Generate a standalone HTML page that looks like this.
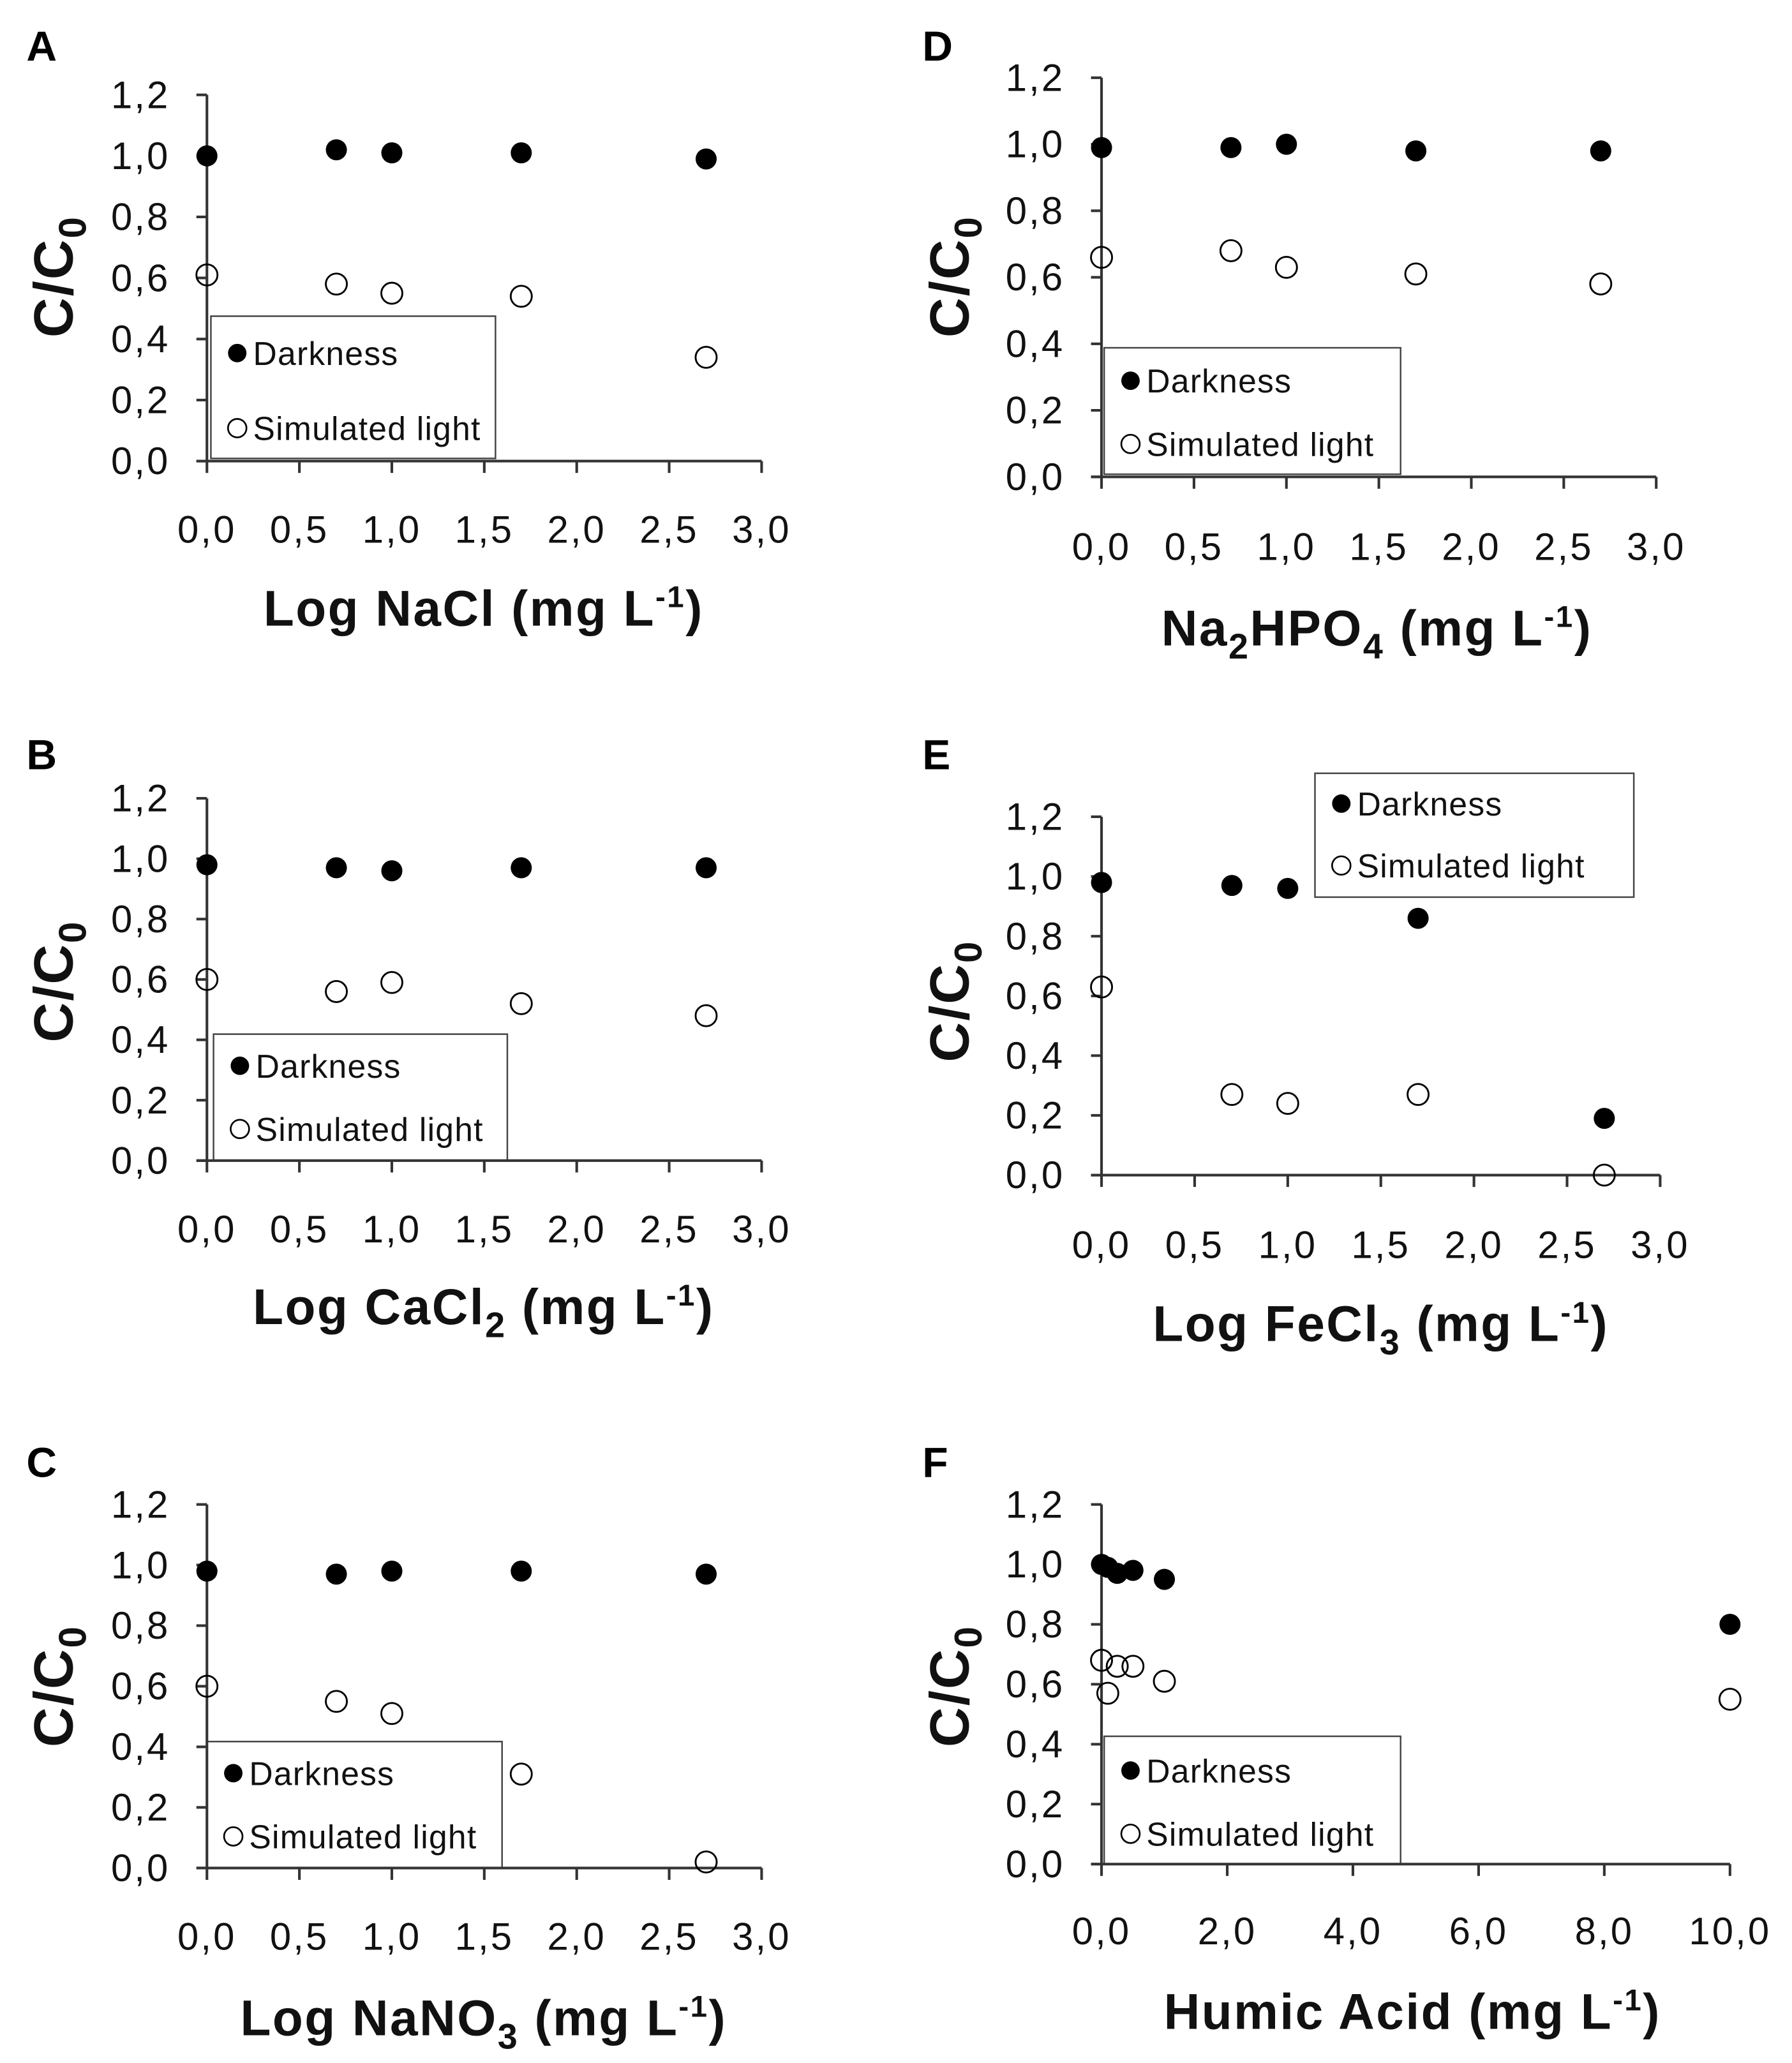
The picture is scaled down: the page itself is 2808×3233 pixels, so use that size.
<!DOCTYPE html>
<html><head><meta charset="utf-8"><style>
html,body{margin:0;padding:0;background:#fff}
svg{display:block}
text{font-family:"Liberation Sans",sans-serif}
</style></head><body>
<svg id="fig" width="2808" height="3233" viewBox="0 0 1360 1566" xmlns="http://www.w3.org/2000/svg"></svg>
<script>
const xA=[0,0.7,1,1.7,2.7];
const darkA=[1.0,1.02,1.01,1.01,0.99];
const lightA=[0.61,0.58,0.55,0.54,0.34];
const darkB=[0.98,0.97,0.96,0.97,0.97];
const lightB=[0.60,0.56,0.59,0.52,0.48];
const darkC=[0.98,0.97,0.98,0.98,0.97];
const lightC=[0.60,0.55,0.51,0.31,0.02];
const darkD=[0.99,0.99,1.0,0.98,0.98];
const lightD=[0.66,0.68,0.63,0.61,0.58];
const darkE=[0.98,0.97,0.96,0.86,0.19];
const lightE=[0.63,0.27,0.24,0.27,0.0];
const xF=[0,0.1,0.25,0.5,1,10];
const darkF=[1.0,0.99,0.97,0.98,0.95,0.80];
const lightF=[0.68,0.57,0.66,0.66,0.61,0.55];
const yTicks=["0,0","0,2","0,4","0,6","0,8","1,0","1,2"];
const xTicksLog=["0,0","0,5","1,0","1,5","2,0","2,5","3,0"];
const xTicksF=["0,0","2,0","4,0","6,0","8,0","10,0"];

const NS="http://www.w3.org/2000/svg";
const svg=document.getElementById('fig');
function mk(tag,attrs,parent,txt){const e=document.createElementNS(NS,tag);for(const k in attrs)e.setAttribute(k,attrs[k]);if(txt!==undefined)e.innerHTML=txt;(parent||svg).appendChild(e);return e;}

const panels=[
 {id:'a',letter:'A',lx:20,ly:46,x0:157,x1:578,y0:350,y1:72,xmax:3,xs:xA,dark:darkA,light:lightA,ticks:xTicksLog,tickY:412,title:'Log NaCl (mg L<tspan dy="-14" font-size="23">-1</tspan><tspan dy="14">)</tspan>',tx:367,ty:475,yt:[55,210],leg:[160,240,216,108,268,325]},
 {id:'b',letter:'B',lx:20,ly:584,x0:157,x1:578,y0:881,y1:606,xmax:3,xs:xA,dark:darkB,light:lightB,ticks:xTicksLog,tickY:943,title:'Log CaCl<tspan dy="10" font-size="27">2</tspan><tspan dy="-10"> (mg L</tspan><tspan dy="-14" font-size="23">-1</tspan><tspan dy="14">)</tspan>',tx:367,ty:1005,yt:[55,745],leg:[162,785,223,96,809,857]},
 {id:'c',letter:'C',lx:20,ly:1121,x0:157,x1:578,y0:1418,y1:1142,xmax:3,xs:xA,dark:darkC,light:lightC,ticks:xTicksLog,tickY:1480,title:'Log NaNO<tspan dy="10" font-size="27">3</tspan><tspan dy="-10"> (mg L</tspan><tspan dy="-14" font-size="23">-1</tspan><tspan dy="14">)</tspan>',tx:367,ty:1545,yt:[55,1280],leg:[157,1322,224,96,1346,1394]},
 {id:'d',letter:'D',lx:700,ly:46,x0:836,x1:1257,y0:362,y1:59,xmax:3,xs:xA,dark:darkD,light:lightD,ticks:xTicksLog,tickY:425,title:'Na<tspan dy="10" font-size="27">2</tspan><tspan dy="-10">HPO</tspan><tspan dy="10" font-size="27">4</tspan><tspan dy="-10"> (mg L</tspan><tspan dy="-14" font-size="23">-1</tspan><tspan dy="14">)</tspan>',tx:1045,ty:490,yt:[735,210],leg:[838,264,225,96,289,337]},
 {id:'e',letter:'E',lx:700,ly:584,x0:836,x1:1260,y0:892,y1:620,xmax:3,xs:xA,dark:darkE,light:lightE,ticks:xTicksLog,tickY:955,title:'Log FeCl<tspan dy="10" font-size="27">3</tspan><tspan dy="-10"> (mg L</tspan><tspan dy="-14" font-size="23">-1</tspan><tspan dy="14">)</tspan>',tx:1048,ty:1018,yt:[735,760],leg:[998,587,242,94,610,657]},
 {id:'f',letter:'F',lx:700,ly:1121,x0:836,x1:1313,y0:1415,y1:1142,xmax:10,xs:xF,dark:darkF,light:lightF,ticks:xTicksF,tickY:1476,title:'Humic Acid (mg L<tspan dy="-14" font-size="23">-1</tspan><tspan dy="14">)</tspan>',tx:1072,ty:1540,yt:[735,1280],leg:[838,1318,225,97,1344,1392]}
];

panels.forEach(p=>{
 const g=mk('g',{});
 
 
 const X=v=>p.x0+(p.x1-p.x0)*v/p.xmax;
 const Y=v=>p.y0+(p.y1-p.y0)*v/1.2;
 const L=mk('text',{x:p.lx,y:p.ly,'font-size':32,'font-weight':'bold'},g,p.letter);
 
 
 const lg=mk('g',{},g);
 
 
 const [bx,by,bw,bh,e1,e2]=p.leg;
 mk('rect',{x:bx,y:by,width:bw,height:bh,fill:'#fff',stroke:'#444','stroke-width':1.2},lg);
 mk('circle',{cx:bx+20,cy:e1,r:7,fill:'#000'},lg);
 mk('text',{x:bx+32,y:e1+9,'font-size':25,'letter-spacing':0.6,fill:'#111'},lg,'Darkness');
 mk('circle',{cx:bx+20,cy:e2,r:7,fill:'#fff',stroke:'#000','stroke-width':1.3},lg);
 mk('text',{x:bx+32,y:e2+9,'font-size':25,'letter-spacing':0.6,fill:'#111'},lg,'Simulated light');
 const ax=mk('g',{stroke:'#333','stroke-width':2},g);
 
 
 mk('line',{x1:p.x0,y1:p.y0,x2:p.x0,y2:p.y1},ax);
 mk('line',{x1:p.x0-8,y1:p.y0,x2:p.x1,y2:p.y0},ax);
 yTicks.forEach((t,i)=>{
  const v=i*0.2,y=Y(v);
  mk('line',{x1:p.x0-8,y1:y,x2:p.x0,y2:y},ax);
  const tt=mk('text',{x:p.x0-28,y:y+10,'font-size':29,'letter-spacing':1.5,'text-anchor':'end',fill:'#111',stroke:'none'},g,t);
  
  
 });
 const n=p.ticks.length;
 p.ticks.forEach((t,i)=>{
  const v=i*p.xmax/(n-1),x=X(v);
  mk('line',{x1:x,y1:p.y0,x2:x,y2:p.y0+9},ax);
  const tt=mk('text',{x:x,y:p.tickY,'font-size':29,'letter-spacing':1.5,'text-anchor':'middle',fill:'#111'},g,t);
  
  
 });
 const xt=mk('text',{x:p.tx,y:p.ty,'font-size':38,'letter-spacing':1.2,'font-weight':'bold','text-anchor':'middle',fill:'#111'},g,p.title);
 
 
 const yt=mk('text',{x:0,y:0,'font-size':42,'letter-spacing':1,'font-weight':'bold','text-anchor':'middle',fill:'#111',transform:`translate(${p.yt[0]},${p.yt[1]}) rotate(-90)`},g,'C/C<tspan dy="10" font-size="29">0</tspan>');
 
 
 p.xs.forEach((xv,i)=>{
  const c=mk('circle',{cx:X(xv),cy:Y(p.dark[i]),r:8,fill:'#000'},g);
  
  
  const o=mk('circle',{cx:X(xv),cy:Y(p.light[i]),r:8,fill:'none',stroke:'#000','stroke-width':1.4},g);
  
  
 });
});
</script>
</body></html>
